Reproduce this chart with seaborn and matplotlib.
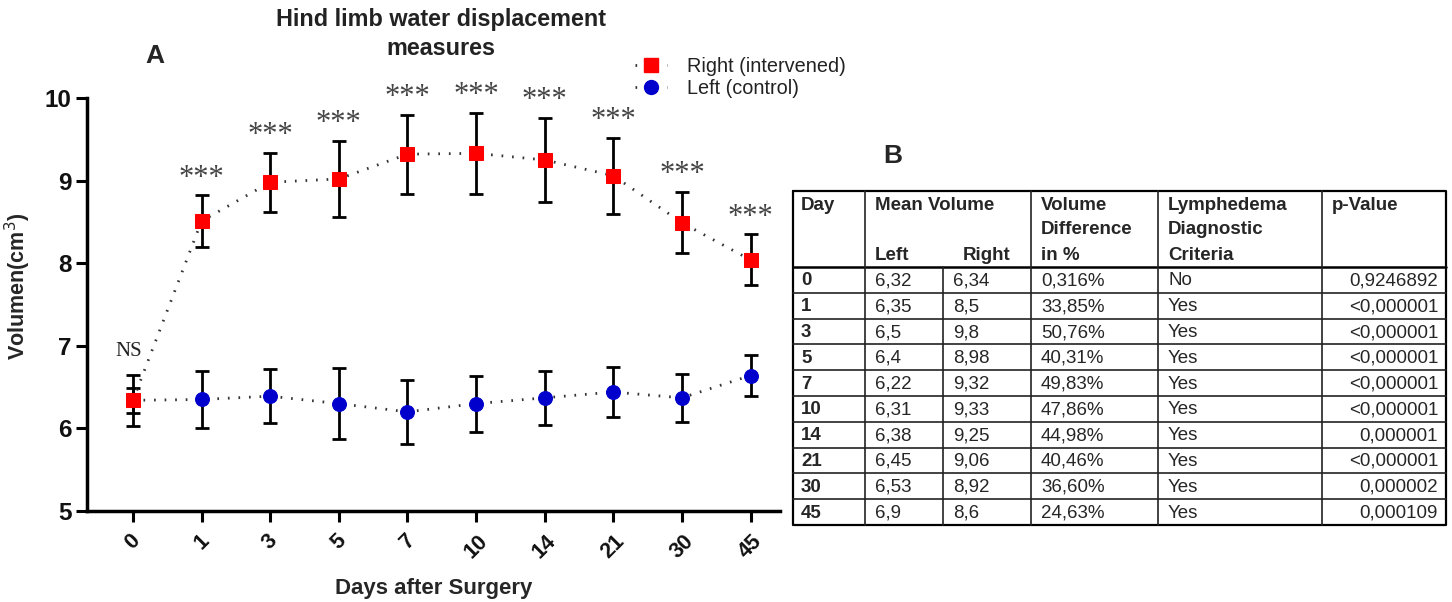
import numpy as np
import pandas as pd
import matplotlib
matplotlib.use("Agg")
import matplotlib.pyplot as plt
from matplotlib.lines import Line2D
import seaborn as sns

# ---- panel A data ----
days = ["0", "1", "3", "5", "7", "10", "14", "21", "30", "45"]
right_mean = [6.34, 8.51, 8.98, 9.02, 9.32, 9.33, 9.25, 9.06, 8.49, 8.04]
right_err = [0.15, 0.31, 0.36, 0.46, 0.48, 0.49, 0.51, 0.46, 0.37, 0.31]
left_mean = [6.34, 6.35, 6.39, 6.30, 6.20, 6.30, 6.37, 6.44, 6.37, 6.64]
left_err = [0.31, 0.35, 0.33, 0.43, 0.39, 0.34, 0.33, 0.30, 0.29, 0.25]
signif = ["NS", "***", "***", "***", "***", "***", "***", "***", "***", "***"]

# ---- panel B table ----
tab_day = ["0", "1", "3", "5", "7", "10", "14", "21", "30", "45"]
tab_left = ["6,32", "6,35", "6,5", "6,4", "6,22", "6,31", "6,38", "6,45", "6,53", "6,9"]
tab_right = ["6,34", "8,5", "9,8", "8,98", "9,32", "9,33", "9,25", "9,06", "8,92", "8,6"]
tab_diff = ["0,316%", "33,85%", "50,76%", "40,31%", "49,83%", "47,86%", "44,98%",
            "40,46%", "36,60%", "24,63%"]
tab_crit = ["No", "Yes", "Yes", "Yes", "Yes", "Yes", "Yes", "Yes", "Yes", "Yes"]
tab_p = ["0,9246892", "<0,000001", "<0,000001", "<0,000001", "<0,000001", "<0,000001",
         "0,000001", "<0,000001", "0,000002", "0,000109"]

sns.set_theme(style="ticks")
plt.rcParams['font.family'] = ['Liberation Sans', 'DejaVu Sans']

pos = np.arange(len(days))
df = pd.DataFrame({"pos": pos, "right": right_mean, "left": left_mean})

fig = plt.figure(figsize=(14.52, 6.02), dpi=100)
ax = fig.add_axes([0.0599, 0.1512, 0.4773, 0.686])

line_col = "#333333"
dots = (0, (0.6, 3.2))
ax.errorbar(pos, left_mean, yerr=left_err, fmt="none", ecolor="black",
            elinewidth=2, capsize=5, capthick=2, zorder=2)
ax.errorbar(pos, right_mean, yerr=right_err, fmt="none", ecolor="black",
            elinewidth=2, capsize=5, capthick=2, zorder=4)
sns.lineplot(data=df, x="pos", y="left", ax=ax, color=line_col, lw=2,
             dashes=False, linestyle=dots, marker="o", markersize=10,
             markerfacecolor="#0000cc", markeredgecolor="#0000cc", zorder=3)
sns.lineplot(data=df, x="pos", y="right", ax=ax, color=line_col, lw=2,
             dashes=False, linestyle=dots, marker="s", markersize=10,
             markerfacecolor="#ff0000", markeredgecolor="#ff0000", zorder=5)

for i, s in enumerate(signif):
    if s == "NS":
        ax.annotate(s, (pos[i], left_mean[i] + left_err[i]), xytext=(-3, 10),
                    textcoords="offset points", ha="center", va="bottom",
                    fontfamily="Liberation Serif", fontsize=15, color="#222222")
    else:
        ax.annotate(s, (pos[i], right_mean[i] + right_err[i]), xytext=(0, 2),
                    textcoords="offset points", ha="center", va="bottom",
                    fontfamily="Liberation Serif", fontsize=22, color="#444444")

ax.set_xlim(-0.67, 9.43)
ax.set_ylim(5, 10)
ax.set_yticks([5, 6, 7, 8, 9, 10])
ax.set_xticks(pos)
ax.set_xticklabels(days, rotation=45, ha="center", fontsize=15.5, fontweight="bold")
for lab in ax.get_yticklabels():
    lab.set_fontsize(17.5)
    lab.set_fontweight("bold")
ax.tick_params(axis="both", direction="out", length=8, width=2.2, color="black",
               labelcolor="#111111")
ax.tick_params(axis="x", pad=6)
ax.tick_params(axis="y", pad=3)
sns.despine(ax=ax)
for sp in ["left", "bottom"]:
    ax.spines[sp].set_linewidth(2.5)
    ax.spines[sp].set_color("black")
ax.set_xlabel("Days after Surgery", fontsize=16, fontweight="bold")
ax.set_ylabel("Volumen(cm$^3$)", fontsize=15.5, fontweight="bold")
ax.xaxis.set_label_coords(0.5, -0.163)
ax.yaxis.set_label_coords(-0.078, 0.545)

handles = [
    Line2D([], [], color=line_col, lw=2, linestyle=dots, marker="s",
           markersize=10, markerfacecolor="#ff0000", markeredgecolor="#ff0000"),
    Line2D([], [], color=line_col, lw=2, linestyle=dots, marker="o",
           markersize=10, markerfacecolor="#0000cc", markeredgecolor="#0000cc"),
]
fig.legend(handles, ["Right (intervened)", "Left (control)"], loc="upper left",
           bbox_to_anchor=(0.425, 0.935), frameon=False, fontsize=14.3,
           handlelength=1.6, handletextpad=1.0, labelspacing=0.15, numpoints=1,
           labelcolor="#222222")

fig.text(441 / 1452, 1 - 34 / 602, "Hind limb water displacement\nmeasures",
         ha="center", va="center", fontsize=16.8, fontweight="bold",
         linespacing=1.3, color="#222222")
fig.text(155 / 1452, 1 - 56 / 602, "A", ha="center", va="center",
         fontsize=19, fontweight="bold")
fig.text(893 / 1452, 1 - 156 / 602, "B", ha="center", va="center",
         fontsize=19, fontweight="bold")

# ---- panel B: table drawn in pixel coordinates ----
tx = fig.add_axes([0, 0, 1, 1])
tx.set_xlim(0, 1452)
tx.set_ylim(602, 0)
tx.axis("off")

col_edges = [793, 865, 943, 1031, 1158, 1322, 1446]
top, head_bot, bottom = 191, 267, 525
row_h = (bottom - head_bot) / len(tab_day)
lw_in = 1.2

tx.plot([col_edges[0], col_edges[-1], col_edges[-1], col_edges[0], col_edges[0]],
        [top, top, bottom, bottom, top], color="black", lw=1.6)
tx.plot([col_edges[0], col_edges[-1]], [head_bot, head_bot], color="black", lw=1.8)
for i in range(1, len(tab_day)):
    y = head_bot + i * row_h
    tx.plot([col_edges[0], col_edges[-1]], [y, y], color="#222222", lw=lw_in)
for j, xe in enumerate(col_edges[1:-1], start=1):
    y0 = head_bot if j == 2 else top
    tx.plot([xe, xe], [y0, bottom], color="#222222", lw=lw_in)

fs = 13.5
hdr = dict(fontsize=fs, fontweight="bold", va="center", ha="left")
tx.text(col_edges[0] + 8, 205, "Day", **hdr)
tx.text(col_edges[1] + 10, 205, "Mean Volume", **hdr)
tx.text(col_edges[1] + 10, 255, "Left", **hdr)
tx.text(col_edges[2] + 20, 255, "Right", **hdr)
for k, s in enumerate(["Volume", "Difference", "in %"]):
    tx.text(col_edges[3] + 10, 205 + 25 * k, s, **hdr)
for k, s in enumerate(["Lymphedema", "Diagnostic", "Criteria"]):
    tx.text(col_edges[4] + 10, 205 + 25 * k, s, **hdr)
tx.text(col_edges[5] + 10, 205, "p-Value", **hdr)

for i in range(len(tab_day)):
    yc = head_bot + (i + 0.5) * row_h + 1
    tx.text(col_edges[0] + 8, yc, tab_day[i], fontsize=fs, fontweight="bold",
            va="center", ha="left")
    tx.text(col_edges[1] + 10, yc, tab_left[i], fontsize=fs, va="center", ha="left")
    tx.text(col_edges[2] + 10, yc, tab_right[i], fontsize=fs, va="center", ha="left")
    tx.text(col_edges[3] + 10, yc, tab_diff[i], fontsize=fs, va="center", ha="left")
    tx.text(col_edges[4] + 10, yc, tab_crit[i], fontsize=fs, va="center", ha="left")
    tx.text(col_edges[6] - 8, yc, tab_p[i], fontsize=fs, va="center", ha="right")

fig.savefig("out.png", dpi=100)
